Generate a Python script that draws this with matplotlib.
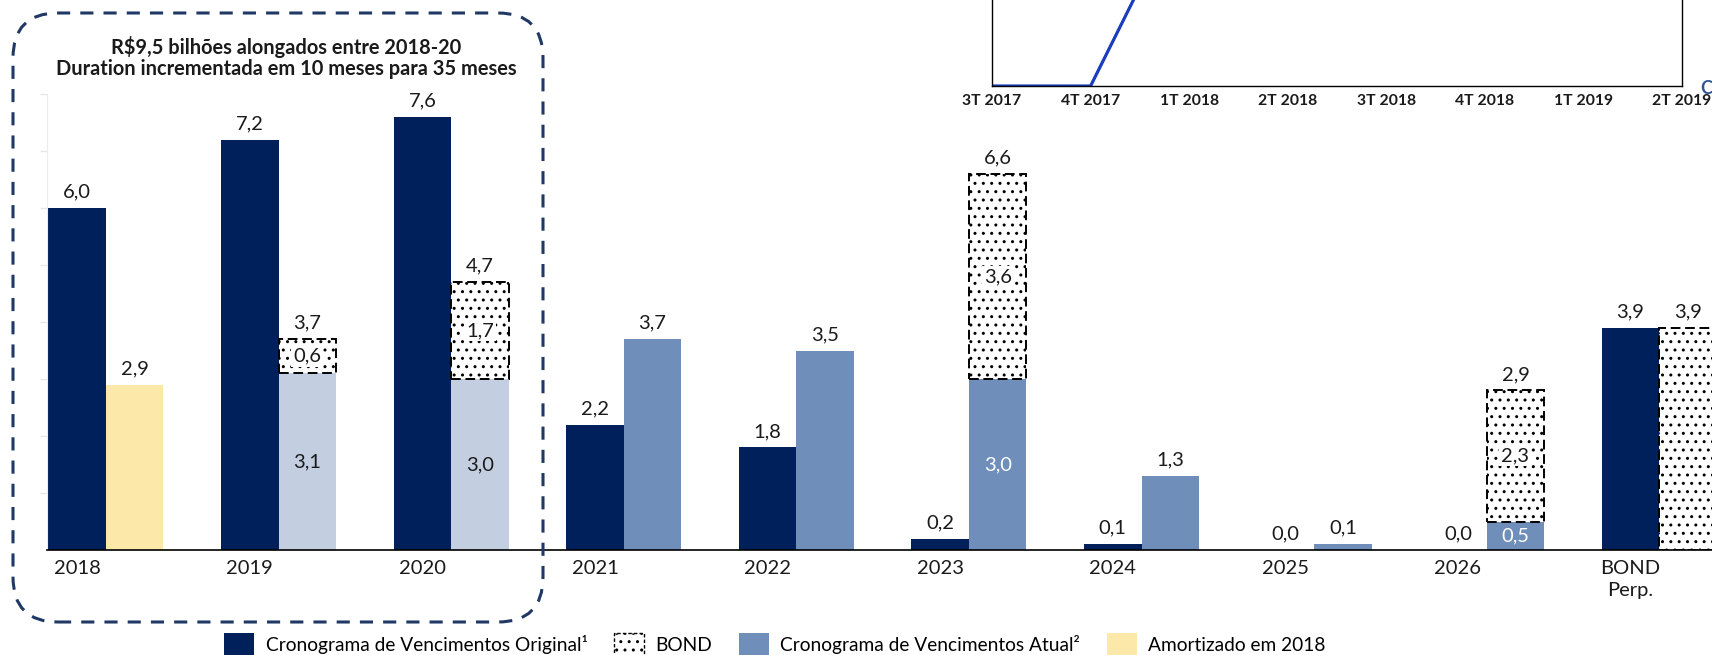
import matplotlib
matplotlib.use('Agg')
import matplotlib.pyplot as plt
from matplotlib.patches import Patch, FancyBboxPatch
import numpy as np

#------------------------------------------------------------------------------
# dados (R$ bilhoes)
anos = ['2018', '2019', '2020', '2021', '2022', '2023', '2024', '2025', '2026', 'BOND\nPerp.']
original = [6.0, 7.2, 7.6, 2.2, 1.8, 0.2, 0.1, 0.0, 0.0, 3.9]
amortizado = [2.9, 0, 0, 0, 0, 0, 0, 0, 0, 0]
atual = [0, 3.1, 3.0, 3.7, 3.5, 3.0, 1.3, 0.1, 0.5, 0]
bond = [0, 0.6, 1.7, 0, 0, 3.6, 0, 0, 2.3, 3.9]
totais = [None, 3.7, 4.7, None, None, 6.6, None, None, 2.9, 3.9]
anos_quadro = ['2019', '2020']
titulo = ['R$9,5 bilhões alongados entre 2018-20',
          'Duration incrementada em 10 meses para 35 meses']
legenda = ['Cronograma de Vencimentos Original¹', 'BOND',
           'Cronograma de Vencimentos Atual²', 'Amortizado em 2018']

# grafico cortado no topo direito
trimestres = ['3T 2017', '4T 2017', '1T 2018', '2T 2018',
              '3T 2018', '4T 2018', '1T 2019', '2T 2019']
curva = [0.0, 0.0, 2.3]
#------------------------------------------------------------------------------
navy = '#00205B'
azul = '#6F8FBA'
claro = '#C3CEE1'
amarelo = '#FCE8A8'
quadro = '#1F3864'
texto = '#1a1a1a'

plt.rcParams['font.family'] = ['Lato', 'DejaVu Sans']
plt.rcParams['hatch.linewidth'] = 1.0
fs = 14.5

fmt = lambda v: ('%.1f' % v).replace('.', ',')

W, H = 1712, 655
fig = plt.figure(figsize=(W/100, H/100), dpi=100)
fig.patch.set_facecolor('white')

ax = fig.add_axes([47/W, 105/H, 1716/W, 456/H])
x = np.arange(len(anos))
w = 1/3

seg2 = [a + b for a, b in zip(amortizado, atual)]
cores2 = []
for i in range(len(anos)):
    if amortizado[i] > 0: cores2.append(amarelo)
    elif anos[i] in anos_quadro: cores2.append(claro)
    else: cores2.append(azul)

ax.bar(x - w/2, original, w, color=navy, linewidth=0)
ax.bar(x + w/2, seg2, w, color=cores2, linewidth=0)
tem_bond = [i for i in range(len(anos)) if bond[i] > 0]
ax.bar(x[tem_bond] + w/2, [bond[i] for i in tem_bond], w,
       bottom=[seg2[i] for i in tem_bond], facecolor='white', edgecolor='black',
       hatch='..', linestyle=(0, (5, 2.4)), linewidth=1.4)

off = 11.5
for i in range(len(anos)):
    ax.annotate(fmt(original[i]), (x[i] - w/2, original[i]), xytext=(0, off),
                textcoords='offset points', ha='center', va='center',
                fontsize=fs, color=texto)
    if bond[i] > 0:
        if seg2[i] > 0:
            c = texto if cores2[i] == claro else 'white'
            ax.text(x[i] + w/2, seg2[i]/2, fmt(seg2[i]), ha='center',
                    va='center', fontsize=fs, color=c)
            ax.text(x[i] + w/2, seg2[i] + bond[i]/2, fmt(bond[i]), ha='center',
                    va='center', fontsize=fs, color=texto,
                    bbox=dict(facecolor='white', edgecolor='none', pad=1.5))
        ax.annotate(fmt(totais[i]), (x[i] + w/2, seg2[i] + bond[i]),
                    xytext=(0, off), textcoords='offset points', ha='center',
                    va='center', fontsize=fs, color=texto)
    else:
        ax.annotate(fmt(seg2[i]), (x[i] + w/2, seg2[i]), xytext=(0, off),
                    textcoords='offset points', ha='center', va='center',
                    fontsize=fs, color=texto)

ax.set_xlim(-w - 0.008, -w - 0.008 + 1716/172.6)
ax.set_ylim(0, 8)
ax.set_xticks(x - w/2)
ax.set_xticklabels(anos, fontsize=fs, color=texto, linespacing=1.4)
ax.tick_params(axis='x', length=0, pad=7)
ax.set_yticks(np.arange(1, 9))
ax.set_yticklabels([])
ax.tick_params(axis='y', length=5, color='#e6e6e6', width=1)
for s in ['top', 'right']:
    ax.spines[s].set_visible(False)
ax.spines['left'].set_color('#ececec')
ax.spines['bottom'].set_color('black')
ax.spines['bottom'].set_linewidth(1.2)
ax.patch.set_alpha(0)

#------------------------------------------------------------------------------
# quadro tracejado 2018-20
box = FancyBboxPatch((0.13, 0.33), 5.30, 6.09,
                     boxstyle='round,pad=0,rounding_size=0.45',
                     transform=fig.dpi_scale_trans, fill=False,
                     edgecolor=quadro, linewidth=2.2, linestyle=(0, (4.3, 3.3)))
fig.add_artist(box)
fig.text(286/W, 1 - 47/H, titulo[0], ha='center', va='center',
         fontsize=14.4, fontweight='bold', color=texto)
fig.text(286/W, 1 - 69/H, titulo[1], ha='center', va='center',
         fontsize=14.4, fontweight='bold', color=texto)

#------------------------------------------------------------------------------
# grafico de linha cortado
ax2 = fig.add_axes([992/W, 1 - 86/H, 690/W, 86/H])
ax2.plot(range(len(curva)), curva, color='#1C3CC0', linewidth=2.3)
ax2.set_xlim(0, len(trimestres) - 1)
ax2.set_ylim(0, 1)
ax2.set_xticks(range(len(trimestres)))
ax2.set_xticklabels(trimestres, fontsize=11.3, fontweight='bold', color=texto)
ax2.tick_params(axis='x', length=0, pad=6)
ax2.set_yticks([])
ax2.spines['top'].set_visible(False)
for s in ['left', 'right', 'bottom']:
    ax2.spines[s].set_linewidth(1.0)
fig.text(1700/W, 1 - 88/H, 'C', ha='left', va='center', fontsize=13,
         fontweight='bold', color='#2F5597')

#------------------------------------------------------------------------------
# legenda
handles = [Patch(facecolor=navy),
           Patch(facecolor='white', edgecolor='black', hatch='..',
                 linestyle=(0, (2.5, 1.5)), linewidth=1.0),
           Patch(facecolor=azul),
           Patch(facecolor=amarelo)]
fig.legend(handles, legenda, loc='center', bbox_to_anchor=(775/W, 10/H),
           ncol=4, frameon=False, fontsize=13.8, handlelength=1.55,
           handleheight=1.6, handletextpad=0.6, columnspacing=1.4,
           borderaxespad=0, borderpad=0)

fig.savefig('out.png', dpi=100)
